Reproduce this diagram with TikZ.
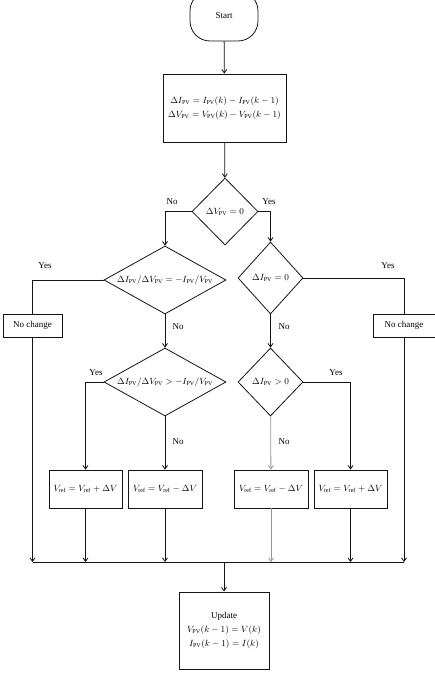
\documentclass[tikz,border=0pt]{standalone}
\usepackage{fontspec}
\setmainfont{Liberation Serif}
\usepackage{tikz}
\usetikzlibrary{shapes.geometric, arrows.meta, positioning, calc}
\definecolor{FCLine}{RGB}{20, 20, 20}
\definecolor{FCFaint}{RGB}{150, 150, 150}

\tikzset{
  base/.style={draw=FCLine, line width=0.8pt, inner sep=0pt, align=center,
    font=\fontsize{9}{11}\selectfont},
  terminal/.style={base, rounded corners=20pt, minimum width=68pt, minimum height=50pt},
  procbox/.style={base, rectangle},
  decision/.style={base, diamond},
  flow/.style={draw=FCLine, line width=0.8pt},
  arrow/.style={flow, -{Straight Barb[length=3.5pt,width=5pt]}},
  answer/.style={font=\fontsize{9}{10}\selectfont}
}

\begin{document}
\begin{tikzpicture}[x=1pt,y=-1pt]
  \useasboundingbox (0,0) rectangle (434,682);

  % Start and differences
  \node[terminal] (start) at (224,16) {Start};
  \node[procbox, minimum width=123pt, minimum height=68pt] (delta) at (224.5,108)
    {$\Delta I_{\mathrm{PV}} = I_{\mathrm{PV}}(k) - I_{\mathrm{PV}}(k-1)$\\[3pt]
     $\Delta V_{\mathrm{PV}} = V_{\mathrm{PV}}(k) - V_{\mathrm{PV}}(k-1)$};

  % Decisions
  \node[decision, aspect=1, minimum width=66pt, minimum height=67pt] (dv) at (225,211.5)
    {$\Delta V_{\mathrm{PV}} = 0$};
  \node[decision, aspect=1.8, minimum width=122pt, minimum height=68pt] (dineq) at (165,280)
    {$\Delta I_{\mathrm{PV}}/\Delta V_{\mathrm{PV}} = -I_{\mathrm{PV}}/V_{\mathrm{PV}}$};
  \node[decision, aspect=0.9, minimum width=65pt, minimum height=72pt] (dizero) at (270.5,278)
    {$\Delta I_{\mathrm{PV}} = 0$};
  \node[decision, aspect=1.8, minimum width=122pt, minimum height=68pt] (dgreater) at (165,382)
    {$\Delta I_{\mathrm{PV}}/\Delta V_{\mathrm{PV}} > -I_{\mathrm{PV}}/V_{\mathrm{PV}}$};
  \node[decision, aspect=1, minimum width=65pt, minimum height=68pt] (dipos) at (270.5,382)
    {$\Delta I_{\mathrm{PV}} > 0$};

  % No change
  \node[procbox, minimum width=59pt, minimum height=23pt] (keepl) at (32.5,325.5) {No change};
  \node[procbox, minimum width=62pt, minimum height=23pt] (keepr) at (404,325.5) {No change};

  % Reference voltage updates
  \node[procbox, minimum width=73pt, minimum height=38pt] (vincl) at (85.5,489)
    {$V_{\mathrm{ref}} = V_{\mathrm{ref}} + \Delta V$};
  \node[procbox, minimum width=74pt, minimum height=38pt] (vdecl) at (165,489)
    {$V_{\mathrm{ref}} = V_{\mathrm{ref}} - \Delta V$};
  \node[procbox, minimum width=74pt, minimum height=38pt] (vdecr) at (271,489)
    {$V_{\mathrm{ref}} = V_{\mathrm{ref}} - \Delta V$};
  \node[procbox, minimum width=73pt, minimum height=38pt] (vincr) at (350.5,489)
    {$V_{\mathrm{ref}} = V_{\mathrm{ref}} + \Delta V$};

  % Update
  \coordinate (merge) at (224,562);
  \node[procbox, minimum width=90pt, minimum height=77pt, line width=1pt] (update) at (224,630.5)
    {Update\\[3pt] $V_{\mathrm{PV}}(k-1) = V(k)$\\[3pt] $I_{\mathrm{PV}}(k-1) = I(k)$};

  % Answers
  \node[answer] (no1) at (172,202) {No};
  \node[answer] (yes1) at (269,202) {Yes};
  \node[answer] (yes2) at (45,266) {Yes};
  \node[answer] (yes3) at (388,266) {Yes};
  \node[answer] (no2) at (178,327) {No};
  \node[answer] (no3) at (284,327) {No};
  \node[answer] (yes4) at (96,373) {Yes};
  \node[answer] (yes5) at (336,373) {Yes};
  \node[answer] (no4) at (178,442) {No};
  \node[answer] (no5) at (284,442) {No};

  % Connectors
  \draw[arrow] (start) -- (delta);
  \draw[arrow] (delta) -- (dv);
  \draw[arrow] (dv.west) -| (dineq.north);
  \draw[arrow] (dv.east) -| (dizero.north);
  \draw[flow] (dineq.west) -| (keepl.north);
  \draw[flow] (dizero.east) -| (keepr.north);
  \draw[arrow] (dineq) -- (dgreater);
  \draw[arrow] (dizero) -- (dipos);
  \draw[arrow] (dgreater.west) -| (vincl.north);
  \draw[arrow] (dgreater) -- (vdecl);
  \draw[arrow, draw=FCFaint] (dipos) -- (vdecr);
  \draw[arrow] (dipos.east) -| (vincr.north);

  \draw[arrow] (keepl.south) -- (keepl.south |- merge);
  \draw[arrow] (vincl.south) -- (vincl.south |- merge);
  \draw[arrow] (vdecl.south) -- (vdecl.south |- merge);
  \draw[arrow, draw=FCFaint] (vdecr.south) -- (vdecr.south |- merge);
  \draw[arrow] (vincr.south) -- (vincr.south |- merge);
  \draw[arrow] (keepr.south) -- (keepr.south |- merge);
  \draw[flow] (keepl.south |- merge) -- (keepr.south |- merge);
  \draw[arrow] (merge) -- (update);
\end{tikzpicture}
\end{document}
